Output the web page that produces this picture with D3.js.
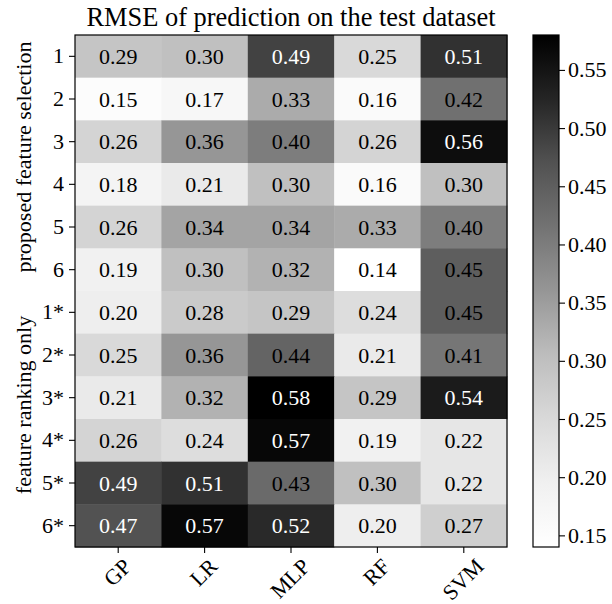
<!DOCTYPE html>
<html>
<head>
<meta charset="utf-8">
<script src="https://cdn.jsdelivr.net/npm/d3@7/dist/d3.min.js"></script>
<style>
  body { margin: 0; background: #fff; }
  svg { display: block; font-family: "Liberation Serif", "DejaVu Serif", serif; }
</style>
</head>
<body>
<svg id="chart" width="612" height="604"></svg>
<script>
// columns / rows of the heatmap
const models = ['GP', 'LR', 'MLP', 'RF', 'SVM'];
const settings = ['1', '2', '3', '4', '5', '6', '1*', '2*', '3*', '4*', '5*', '6*'];

// RMSE values, one row per setting
const rmse = [
    [0.29, 0.30, 0.49, 0.25, 0.51],
    [0.15, 0.17, 0.33, 0.16, 0.42],
    [0.26, 0.36, 0.40, 0.26, 0.56],
    [0.18, 0.21, 0.30, 0.16, 0.30],
    [0.26, 0.34, 0.34, 0.33, 0.40],
    [0.19, 0.30, 0.32, 0.14, 0.45],
    [0.20, 0.28, 0.29, 0.24, 0.45],
    [0.25, 0.36, 0.44, 0.21, 0.41],
    [0.21, 0.32, 0.58, 0.29, 0.54],
    [0.26, 0.24, 0.57, 0.19, 0.22],
    [0.49, 0.51, 0.43, 0.30, 0.22],
    [0.47, 0.57, 0.52, 0.20, 0.27]
];

const cbarTicks = [0.15, 0.20, 0.25, 0.30, 0.35, 0.40, 0.45, 0.50, 0.55];
const groupLabels = ['proposed feature selection', 'feature ranking only'];
const titleText = 'RMSE of prediction on the test dataset';

// matplotlib "Greys" segments
const greys = ['#ffffff', '#f0f0f0', '#d9d9d9', '#bdbdbd', '#969696', '#737373', '#525252', '#252525', '#000000'];
const whiteTextFrom = 0.46;

const FS = 22;
const box = { left: 75, top: 35, right: 507, bottom: 547 };
const cbar = { x: 533, w: 26 };

const svg = d3.select('#chart');

const flat = rmse.flat();
const vmin = d3.min(flat), vmax = d3.max(flat);
const color = d3.scaleLinear()
    .domain(greys.map((c, i) => vmin + i * (vmax - vmin) / (greys.length - 1)))
    .range(greys)
    .interpolate(d3.interpolateRgb);

const x = d3.scaleBand().domain(models).range([box.left, box.right]);
const y = d3.scaleBand().domain(settings).range([box.top, box.bottom]);

const cells = [];
rmse.forEach((row, i) => row.forEach((v, j) => cells.push({ s: settings[i], m: models[j], v })));

svg.append('g').selectAll('rect')
    .data(cells).enter().append('rect')
    .attr('x', d => x(d.m))
    .attr('y', d => y(d.s))
    .attr('width', x.bandwidth() + 0.5)
    .attr('height', y.bandwidth() + 0.5)
    .attr('fill', d => color(d.v));

svg.append('g').selectAll('text')
    .data(cells).enter().append('text')
    .attr('x', d => x(d.m) + x.bandwidth() / 2)
    .attr('y', d => y(d.s) + y.bandwidth() / 2)
    .attr('dy', '0.35em')
    .attr('text-anchor', 'middle')
    .attr('font-size', FS)
    .attr('fill', d => d.v >= whiteTextFrom ? '#fff' : '#000')
    .text(d => d.v.toFixed(2));

// frame
svg.append('rect')
    .attr('x', box.left).attr('y', box.top)
    .attr('width', box.right - box.left).attr('height', box.bottom - box.top)
    .attr('fill', 'none').attr('stroke', '#000').attr('stroke-width', 1.2);

function styleAxis(g) {
    g.attr('font-family', null).attr('font-size', FS);
    g.select('.domain').remove();
    g.selectAll('.tick line').attr('stroke', '#000').attr('stroke-width', 1.1);
    g.selectAll('.tick text').attr('fill', '#000');
}

svg.append('g')
    .attr('transform', `translate(${box.left},0)`)
    .call(d3.axisLeft(y).tickSize(6).tickPadding(5))
    .call(styleAxis);

const xAxis = svg.append('g')
    .attr('transform', `translate(0,${box.bottom})`)
    .call(d3.axisBottom(x).tickSize(6).tickPadding(4))
    .call(styleAxis);

// rotated x labels, centred under the tick like matplotlib ha='center'
xAxis.selectAll('.tick text').each(function () {
    const t = d3.select(this);
    const w = this.getComputedTextLength();
    const h = FS * 0.68;
    const half = (w + h) * Math.SQRT1_2 / 2;
    t.attr('y', null).attr('dy', '0.35em')
        .attr('text-anchor', 'middle')
        .attr('transform', `translate(-1,${10 + half}) rotate(-45)`);
});

// colorbar
const defs = svg.append('defs');
const grad = defs.append('linearGradient')
    .attr('id', 'cbar-grad')
    .attr('x1', 0).attr('y1', 1).attr('x2', 0).attr('y2', 0);
grad.selectAll('stop')
    .data(color.domain()).enter().append('stop')
    .attr('offset', d => (d - vmin) / (vmax - vmin))
    .attr('stop-color', d => color(d));

svg.append('rect')
    .attr('x', cbar.x).attr('y', box.top)
    .attr('width', cbar.w).attr('height', box.bottom - box.top)
    .attr('fill', 'url(#cbar-grad)')
    .attr('stroke', '#000').attr('stroke-width', 1.2);

const c = d3.scaleLinear().domain([vmin, vmax]).range([box.bottom, box.top]);
svg.append('g')
    .attr('transform', `translate(${cbar.x + cbar.w},0)`)
    .call(d3.axisRight(c).tickValues(cbarTicks).tickFormat(d3.format('.2f')).tickSize(6).tickPadding(3))
    .call(styleAxis);

// title and group labels
svg.append('text')
    .attr('x', (box.left + box.right) / 2)
    .attr('y', 26)
    .attr('text-anchor', 'middle')
    .attr('font-size', FS * 1.2)
    .text(titleText);

const groupCentres = [157, 405];
svg.append('g').selectAll('text')
    .data(groupLabels).enter().append('text')
    .attr('transform', (d, i) => `translate(31,${groupCentres[i]}) rotate(-90)`)
    .attr('text-anchor', 'middle')
    .attr('font-size', FS)
    .text(d => d);
</script>
</body>
</html>
